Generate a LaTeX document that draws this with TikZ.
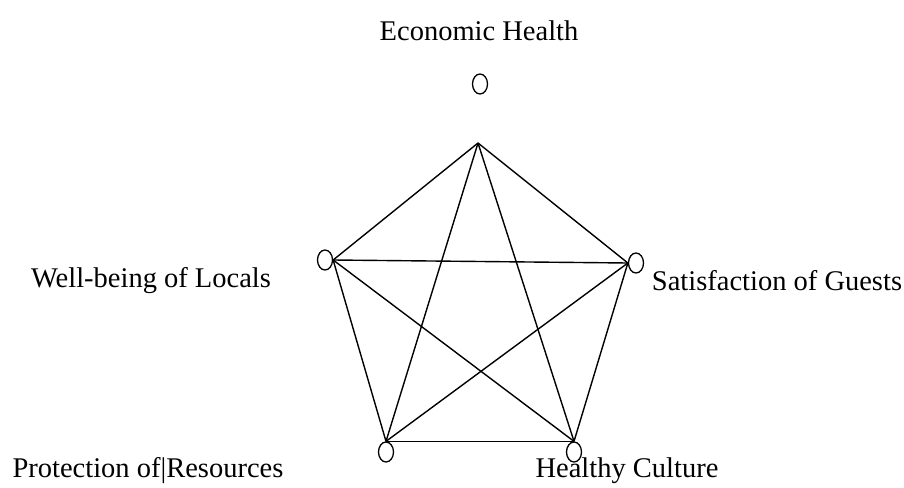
\documentclass[tikz,border=0pt]{standalone}
\usepackage{fontspec}
\setmainfont{Liberation Serif}
\usetikzlibrary{shapes.geometric}

\begin{document}
\begin{tikzpicture}[x=1pt,y=-1pt,
    goal/.style={draw, ellipse, line width=1.3pt, minimum width=15pt, minimum height=20pt, inner sep=0pt},
    goallabel/.style={font=\fontsize{28.5}{32}\selectfont, inner sep=0pt},
    link/.style={line width=1.4pt}]
    \useasboundingbox (0,0) rectangle (904,487);

    % the five goals
    \node[goal] (eh) at (480,84) {};
    \node[goal] (wl) at (325,260) {};
    \node[goal] (sg) at (636,263) {};
    \node[goal] (pr) at (386,452) {};
    \node[goal] (hc) at (574,452) {};
    \coordinate (top) at (478,143);

    \node[goallabel] (ehtext) at (479,31) {Economic Health};
    \node[goallabel] (wltext) at (151,281) {Well-being of Locals};
    \node[goallabel] (sgtext) at (777,281) {Satisfaction of Guests};
    \node[goallabel] (prtext) at (148,471) {Protection of|Resources};
    \node[goallabel] (hctext) at (627,471) {Healthy Culture};

    % every goal joined to every other
    \foreach \a/\b in {top/wl.east, top/sg.west, top/pr.north, top/hc.north,
                       wl.east/sg.west, wl.east/pr.north, wl.east/hc.north,
                       sg.west/pr.north, sg.west/hc.north, pr.north/hc.north}
      \draw[link] (\a) -- (\b);
\end{tikzpicture}
\end{document}
